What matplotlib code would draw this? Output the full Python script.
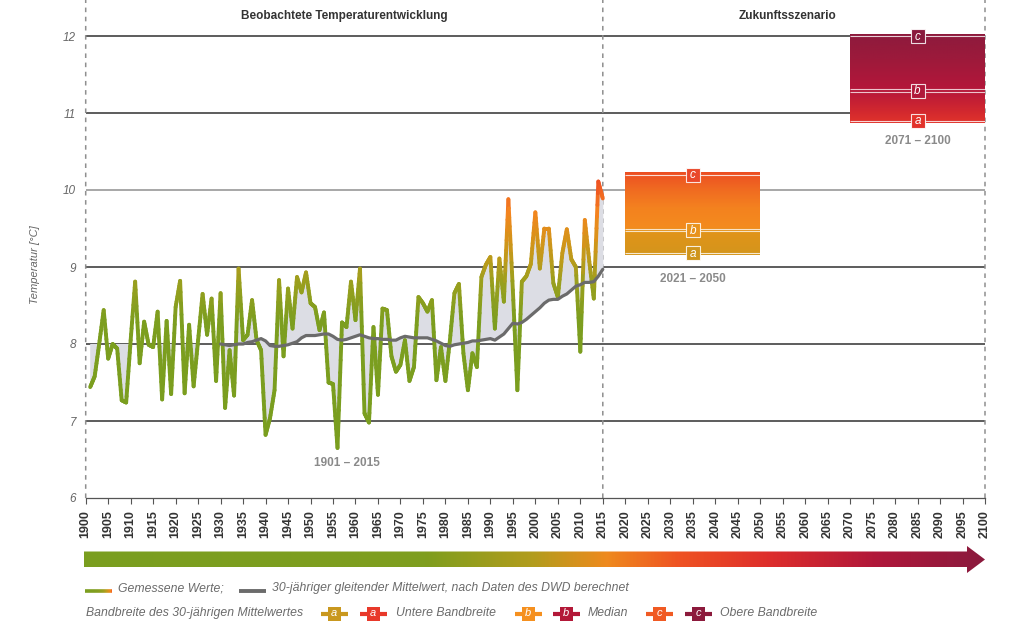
import numpy as np
import matplotlib
matplotlib.use('Agg')
import matplotlib.pyplot as plt
from matplotlib.colors import LinearSegmentedColormap, Normalize
from matplotlib.collections import LineCollection
from matplotlib.patches import Polygon, Rectangle

# ---------------- data ----------------
years = list(range(1901, 2016))
temps = [7.44, 7.58, 8.00, 8.44, 7.81, 8.00, 7.94, 7.27, 7.24, 8.05,
         8.81, 7.75, 8.29, 7.99, 7.96, 8.42, 7.28, 8.30, 7.35, 8.48,
         8.82, 7.36, 8.25, 7.45, 8.05, 8.65, 8.12, 8.59, 7.52, 8.66,
         7.17, 7.92, 7.33, 8.98, 8.05, 8.12, 8.57, 8.05, 7.92, 6.82,
         7.04, 7.40, 8.83, 7.84, 8.72, 8.20, 8.87, 8.67, 8.93, 8.53,
         8.48, 8.18, 8.41, 7.50, 7.48, 6.65, 8.28, 8.22, 8.81, 8.31,
         8.98, 7.10, 6.98, 8.22, 7.34, 8.46, 8.44, 7.84, 7.64, 7.73,
         8.05, 7.52, 7.70, 8.61, 8.53, 8.42, 8.57, 7.53, 7.96, 7.52,
         8.05, 8.66, 8.78, 7.88, 7.40, 7.88, 7.70, 8.87, 9.03, 9.13,
         8.20, 9.11, 8.55, 9.88, 8.70, 7.40, 8.81, 8.88, 9.04, 9.71,
         8.98, 9.50, 9.50, 8.79, 8.61, 9.18, 9.49, 9.10, 9.00, 7.90,
         9.61, 9.07, 8.59, 10.11, 9.89]

mean_years = list(range(1930, 2016))
mean_vals = [8.00, 7.99, 7.98, 7.99, 8.00, 8.00, 8.02, 8.03, 8.05, 8.07,
             8.04, 7.98, 7.97, 7.97, 7.98, 7.99, 8.01, 8.03, 8.08, 8.11,
             8.11, 8.11, 8.12, 8.13, 8.13, 8.10, 8.06, 8.05, 8.06, 8.08,
             8.10, 8.12, 8.10, 8.08, 8.07, 8.07, 8.06, 8.06, 8.05, 8.05,
             8.08, 8.10, 8.09, 8.08, 8.08, 8.08, 8.08, 8.06, 8.04, 8.01,
             7.98, 7.97, 7.99, 8.00, 8.01, 8.02, 8.04, 8.04, 8.05, 8.06,
             8.07, 8.05, 8.09, 8.13, 8.20, 8.27, 8.26, 8.28, 8.32, 8.37,
             8.42, 8.47, 8.53, 8.57, 8.58, 8.58, 8.62, 8.65, 8.70, 8.75,
             8.77, 8.80, 8.80, 8.81, 8.88, 8.97]
pre_mean_level = 8.0

scen_labels = ['2021–2050', '2071–2100']
scen_start = [2020, 2070]
scen_end = [2050, 2100]
band_low = [9.18, 10.90]
band_med = [9.48, 11.29]
band_high = [10.20, 12.00]
marker_cols_a = ['#cf951c', '#e2322a']
marker_cols_b = ['#e8921c', '#b0183a']
marker_cols_c = ['#e9482a', '#8a1a3d']

xticks = list(range(1900, 2101, 5))
yticks = [6, 7, 8, 9, 10, 11, 12]
grid_levels = [7, 8, 9, 10, 11, 12]
divider_years = [1900, 2015, 2100]

plt.rcParams['font.family'] = ['Liberation Sans', 'DejaVu Sans']

W, H = 1024, 642
fig = plt.figure(figsize=(W / 100, H / 100), dpi=100)

# temperature colormap for the measured line
t_lo, t_hi = 7.0, 12.0
stops = [(7.0, '#7a9e1f'), (8.3, '#7c9e1f'), (8.8, '#9a9f1e'), (9.1, '#bd9b1b'),
         (9.4, '#d9921a'), (9.7, '#f4851f'), (10.1, '#ef5223'), (10.6, '#e6392a'),
         (10.95, '#dc2a2c'), (11.3, '#b5173a'), (12.0, '#8a1a3d')]
tcmap = LinearSegmentedColormap.from_list(
    'temp', [((v - t_lo) / (t_hi - t_lo), c) for v, c in stops])
tnorm = Normalize(t_lo, t_hi)

# colormap for the scenario boxes
b_lo, b_hi = 9.1, 12.1
bstops = [(9.1, '#d2961c'), (9.45, '#e1931a'), (9.5, '#f38b1e'), (9.75, '#f4821f'),
          (10.0, '#f06a21'), (10.25, '#ec4a23'), (10.85, '#e3362b'), (11.0, '#d42a2e'),
          (11.3, '#b5163a'), (11.7, '#9d1a3b'), (12.1, '#8a1a3d')]
bcmap = LinearSegmentedColormap.from_list(
    'box', [((v - b_lo) / (b_hi - b_lo), c) for v, c in bstops])
bnorm = Normalize(b_lo, b_hi)

ytop = 12 + 36 / 77
ax = fig.add_axes([85.7 / W, 1 - 498 / H, (985 - 85.7) / W, 498 / H])
ax.patch.set_visible(False)

# grid lines
for g in grid_levels:
    ax.hlines(g, 1900, 2100, color='#a0a0a0' if g == 10 else '#4f4f4f',
              lw=1.3, zorder=1)

# dashed verticals
for xv in divider_years:
    ax.plot([xv, xv], [6, ytop], color='#8f8f8f', ls=(0, (3, 3)), lw=1.1,
            zorder=2, snap=False, clip_on=False)

# fill between series and mean
yrs = np.array(years, dtype=float)
tv = np.array(temps)
my = np.array(mean_years, dtype=float)
mv = np.array(mean_vals)
pre = yrs <= 1930
ax.fill_between(yrs[pre], tv[pre], pre_mean_level, where=tv[pre] < pre_mean_level,
                interpolate=True, color='#dcdde4', lw=0, zorder=2)
post = yrs >= 1930
ax.fill_between(yrs[post], tv[post], mv, color='#dcdde4', lw=0, zorder=2)

# temperature line with vertical colour gradient
segs, cols = [], []
nsub = 10
for i in range(len(yrs) - 1):
    for k in range(nsub):
        f0, f1 = k / nsub, (k + 1) / nsub
        x0 = yrs[i] + (yrs[i + 1] - yrs[i]) * f0
        x1 = yrs[i] + (yrs[i + 1] - yrs[i]) * f1
        y0 = tv[i] + (tv[i + 1] - tv[i]) * f0
        y1 = tv[i] + (tv[i + 1] - tv[i]) * f1
        segs.append([(x0, y0), (x1, y1)])
        cols.append(tcmap(tnorm((y0 + y1) / 2)))
lc = LineCollection(segs, colors=cols, linewidths=2.8, capstyle='round',
                    joinstyle='round', zorder=4)
ax.add_collection(lc)

# moving mean
ax.plot(my, mv, color='#6b6b6b', lw=2.3, zorder=5, solid_capstyle='round')

# scenario boxes
for i in range(2):
    x0, x1 = scen_start[i], scen_end[i]
    lo, md, hi = band_low[i], band_med[i], band_high[i]
    grad = np.linspace(lo - 0.03, hi + 0.02, 256).reshape(-1, 1)
    ax.imshow(grad, extent=[x0, x1, lo - 0.03, hi + 0.02], origin='lower',
              cmap=bcmap, norm=bnorm, aspect='auto', zorder=3, interpolation='bilinear')
    ax.hlines([lo, hi], x0, x1, color='white', lw=0.8, alpha=0.8, zorder=3.5)
    ax.hlines([md - 0.018, md + 0.018], x0, x1, color='white', lw=0.8, alpha=0.75,
              zorder=3.5)
    xc = (x0 + x1) / 2
    for val, col, let in [(lo, marker_cols_a[i], 'a'), (md, marker_cols_b[i], 'b'),
                          (hi, marker_cols_c[i], 'c')]:
        ax.plot(xc, val, marker='s', ms=10, mfc=col, mec=(1, 1, 1, 0.85), mew=0.8,
                zorder=6)
        ax.text(xc, val - 0.01, let, color='white', ha='center', va='center',
                fontsize=8.5, style='italic', zorder=7)

# labels
lab_col = '#8a8a8a'
ax.text(1958, 6.45, '1901 – 2015', ha='center', va='center', fontsize=8.5,
        fontweight='bold', color=lab_col)
ax.text(2035, 8.84, scen_labels[0].replace('–', ' – '), ha='center', va='center',
        fontsize=8.5, fontweight='bold', color=lab_col)
ax.text(2085, 10.64, scen_labels[1].replace('–', ' – '), ha='center', va='center',
        fontsize=8.5, fontweight='bold', color=lab_col)
ax.text(1957.5, 12.26, 'Beobachtete Temperaturentwicklung', ha='center', va='center',
        fontsize=8.5, fontweight='bold', color='#333333')
ax.text(2056, 12.26, 'Zukunftsszenario', ha='center', va='center',
        fontsize=8.5, fontweight='bold', color='#333333')

# axes formatting
ax.set_xlim(1900, 2100)
ax.set_ylim(6, ytop)
for s in ['top', 'right', 'left']:
    ax.spines[s].set_visible(False)
ax.spines['bottom'].set_color('#555555')
ax.spines['bottom'].set_linewidth(0.9)
ax.set_xticks(xticks)
ax.set_xticklabels([str(x) for x in xticks], rotation=90, fontweight='bold',
                   fontsize=9, color='#333333')
ax.tick_params(axis='x', direction='out', length=4.5, width=0.8, color='#555555', pad=4.5)
ax.set_yticks(yticks)
ax.set_yticklabels([str(y) for y in yticks], style='italic', fontsize=8.5, color='#666666')
ax.tick_params(axis='y', length=0, pad=7)
fig.text(35 / W, 1 - 265 / H, 'Temperatur [°C]', rotation=90, ha='center', va='center',
         fontsize=8, style='italic', color='#666666')

# ---------------- overlay: arrow and legend ----------------
ov = fig.add_axes([0, 0, 1, 1])
ov.axis('off')
arrow_stops = [(0.0, '#7a9e1f'), (0.38, '#7f9e1f'), (0.5, '#b39c1c'), (0.58, '#ee8a1e'),
               (0.66, '#ef5323'), (0.76, '#de2e2b'), (0.88, '#b0173a'), (1.0, '#8a1a3d')]
acmap = LinearSegmentedColormap.from_list('arrow', arrow_stops)
poly = Polygon([(84, 551.5), (967, 551.5), (967, 546), (985, 559.5), (967, 573),
                (967, 567), (84, 567)], closed=True, fc='none', ec='none')
ov.add_patch(poly)
im = ov.imshow(np.linspace(0, 1, 512).reshape(1, -1), extent=[84, 985, 573, 546],
               cmap=acmap, aspect='auto', interpolation='bilinear')
im.set_clip_path(poly)

leg_col = '#6b6b6b'
fs_leg = 8.8
# row 1
lx = np.linspace(85, 112, 28)
lsegs = [[(lx[j], 590.5), (lx[j + 1], 590.5)] for j in range(len(lx) - 1)]
lcols = [tcmap(tnorm(8.3 + 1.6 * (j / (len(lx) - 2)) ** 3)) for j in range(len(lx) - 1)]
ov.add_collection(LineCollection(lsegs, colors=lcols, linewidths=2.6, capstyle='butt'))
ov.text(118, 588.5, 'Gemessene Werte;', ha='left', va='center', fontsize=fs_leg,
        style='italic', color=leg_col)
ov.plot([239, 266], [590.5, 590.5], color='#6b6b6b', lw=2.8, solid_capstyle='butt')
ov.text(272, 588.5, '30-jähriger gleitender Mittelwert, nach Daten des DWD berechnet',
        ha='left', va='center', fontsize=fs_leg, style='italic', color=leg_col)

# row 2
ry = 613.5
ov.text(86, 612.7, 'Bandbreite des 30-jährigen Mittelwertes', ha='left', va='center',
        fontsize=fs_leg, style='italic', color=leg_col)


def leg_marker(xc, col, let):
    ov.plot([xc - 13.5, xc + 13.5], [ry, ry], color=col, lw=3.0, solid_capstyle='butt')
    ov.add_patch(Rectangle((xc - 6.5, ry - 7), 13, 14, fc=col, ec='none'))
    ov.text(xc, ry, let, color='white', ha='center', va='center', fontsize=8,
            style='italic')


leg_marker(334, '#c9981f', 'a')
leg_marker(373, '#e8392a', 'a')
ov.text(396, 612.7, 'Untere Bandbreite', ha='left', va='center', fontsize=fs_leg,
        style='italic', color=leg_col)
leg_marker(528, '#f5901f', 'b')
leg_marker(566, '#b31838', 'b')
ov.text(588, 612.7, 'Median', ha='left', va='center', fontsize=fs_leg,
        style='italic', color=leg_col)
leg_marker(659.5, '#f05a23', 'c')
leg_marker(698, '#8c1a3c', 'c')
ov.text(720, 612.7, 'Obere Bandbreite', ha='left', va='center', fontsize=fs_leg,
        style='italic', color=leg_col)

ov.set_xlim(0, W)
ov.set_ylim(H, 0)

fig.savefig('out.png', dpi=100)
